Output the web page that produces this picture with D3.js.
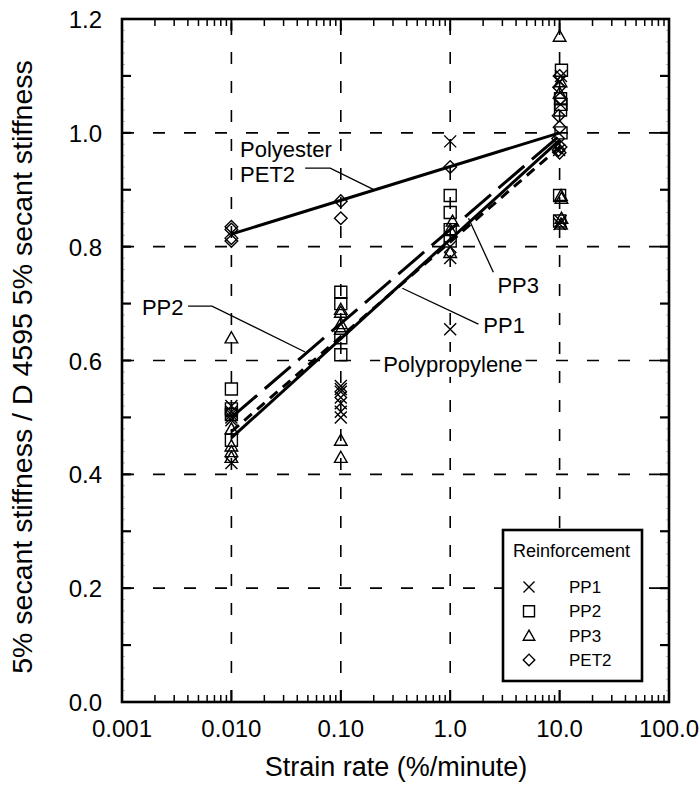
<!DOCTYPE html>
<html>
<head>
<meta charset="utf-8">
<script src="https://cdn.jsdelivr.net/npm/d3@7"></script>
<style>
  body { margin: 0; background: #fff; }
  svg { display: block; font-family: "Liberation Sans", Arial, Helvetica, sans-serif; }
</style>
</head>
<body>
<svg id="chart"></svg>
<script>
// tick values / labels
const xTicks = [0.001, 0.01, 0.1, 1, 10, 100];
const xTickLabels = ['0.001', '0.010', '0.10', '1.0', '10.0', '100.0'];
const yTicks = [0, 0.2, 0.4, 0.6, 0.8, 1.0, 1.2];
const yTickLabels = ['0.0', '0.2', '0.4', '0.6', '0.8', '1.0', '1.2'];
const xGrid = [0.01, 0.1, 1, 10];
const yGrid = [0.2, 0.4, 0.6, 0.8, 1.0];

// measured points [strain rate, stiffness ratio]
const pp1 = [[0.01, 0.42], [0.01, 0.495], [0.01, 0.50], [0.01, 0.505], [0.01, 0.51], [0.01, 0.52],
  [0.1, 0.50], [0.1, 0.51], [0.1, 0.525], [0.1, 0.535], [0.1, 0.545], [0.1, 0.55], [0.1, 0.555],
  [1, 0.655], [1, 0.78], [1, 0.80], [1, 0.985],
  [10, 0.84], [10.2, 0.845], [9.9, 0.97], [10.2, 1.05], [10, 1.09], [10.3, 1.10]];
const pp2 = [[0.01, 0.46], [0.01, 0.505], [0.01, 0.515], [0.01, 0.55],
  [0.1, 0.61], [0.1, 0.64], [0.1, 0.70], [0.1, 0.72],
  [1, 0.81], [1, 0.83], [1, 0.86], [1, 0.89],
  [10, 0.845], [10, 0.89], [10.3, 1.00], [10.2, 1.04], [10.3, 1.05], [10.2, 1.06], [10.4, 1.11]];
const pp3 = [[0.01, 0.43], [0.01, 0.44], [0.01, 0.45], [0.01, 0.48], [0.01, 0.64],
  [0.1, 0.43], [0.1, 0.46], [0.1, 0.655], [0.1, 0.665], [0.1, 0.685], [0.1, 0.69],
  [1, 0.79], [1, 0.83], [1.05, 0.845],
  [10.3, 0.84], [10.4, 0.85], [10.4, 0.885], [10.3, 0.89], [10, 1.07], [10.2, 1.09], [10, 1.17]];
const pet2 = [[0.01, 0.81], [0.01, 0.815], [0.01, 0.83], [0.01, 0.835],
  [0.1, 0.85], [0.1, 0.88], [1, 0.94],
  [10, 0.965], [9.8, 0.97], [10.2, 0.975], [9.7, 0.99], [10, 1.01], [9.8, 1.03], [10.1, 1.06], [9.9, 1.08], [10, 1.10]];

// regression lines (end points)
const fitPP1 = [[0.01, 0.464], [10, 0.987]];
const fitPP2 = [[0.01, 0.50], [10, 0.995]];
const fitPP3 = [[0.01, 0.475], [10, 0.975]];
const fitPET2 = [[0.01, 0.822], [10, 1.0]];

const legendNames = ['PP1', 'PP2', 'PP3', 'PET2'];

const W = 700, H = 786;
const margin = { top: 19, right: 31, bottom: 84, left: 122 };
const iw = W - margin.left - margin.right;
const ih = H - margin.top - margin.bottom;

const svg = d3.select('#chart').attr('width', W).attr('height', H);
svg.append('rect').attr('width', W).attr('height', H).attr('fill', '#fff');

const x = d3.scaleLog().domain([0.001, 100]).range([0, iw]);
const y = d3.scaleLinear().domain([0, 1.2]).range([ih, 0]);

const g = svg.append('g').attr('transform', 'translate(' + margin.left + ',' + margin.top + ')');

// grid
g.append('g').selectAll('line').data(xGrid).join('line')
  .attr('x1', d => x(d)).attr('x2', d => x(d))
  .attr('y1', ih).attr('y2', 0)
  .attr('stroke', '#000').attr('stroke-width', 1.6)
  .attr('stroke-dasharray', '12,17');
g.append('g').selectAll('line').data(yGrid).join('line')
  .attr('x1', 0).attr('x2', iw)
  .attr('y1', d => y(d)).attr('y2', d => y(d))
  .attr('stroke', '#000').attr('stroke-width', 1.6)
  .attr('stroke-dasharray', '12,19');

// ticks on all four sides
const decades = [0.001, 0.01, 0.1, 1, 10];
const minorX = [];
decades.forEach(dd => { for (let k = 2; k <= 9; k++) minorX.push(dd * k); });
const majorX = [0.01, 0.1, 1, 10];
const tickG = g.append('g').attr('stroke', '#000');
[ih, 0].forEach(function(base) {
  const dir = base === 0 ? 1 : -1;
  tickG.selectAll(null).data(minorX).enter().append('line')
    .attr('x1', d => x(d)).attr('x2', d => x(d))
    .attr('y1', base).attr('y2', base + dir * 7)
    .attr('stroke-width', 1.5);
  tickG.selectAll(null).data(majorX).enter().append('line')
    .attr('x1', d => x(d)).attr('x2', d => x(d))
    .attr('y1', base).attr('y2', base + dir * 12)
    .attr('stroke-width', 2);
});
const majorY = d3.range(1, 12).map(i => i / 10);
const minorY = d3.range(1, 60).map(i => i / 50);
[0, iw].forEach(function(base) {
  const dir = base === 0 ? 1 : -1;
  tickG.selectAll(null).data(minorY).enter().append('line')
    .attr('x1', base).attr('x2', base + dir * 3)
    .attr('y1', d => y(d)).attr('y2', d => y(d))
    .attr('stroke-width', 0.6).attr('stroke', '#888');
  tickG.selectAll(null).data(majorY).enter().append('line')
    .attr('x1', base).attr('x2', base + dir * 9)
    .attr('y1', d => y(d)).attr('y2', d => y(d))
    .attr('stroke-width', 2.2);
});

// frame
g.append('rect').attr('width', iw).attr('height', ih)
  .attr('fill', 'none').attr('stroke', '#000').attr('stroke-width', 2.6);

// tick labels
g.append('g').selectAll('text').data(xTicks).join('text')
  .attr('x', d => x(d)).attr('y', ih + 35)
  .attr('text-anchor', 'middle').attr('font-size', 24)
  .text((d, i) => xTickLabels[i]);
g.append('g').selectAll('text').data(yTicks).join('text')
  .attr('x', -20).attr('y', d => y(d) + 9)
  .attr('text-anchor', 'end').attr('font-size', 24)
  .text((d, i) => yTickLabels[i]);

// axis titles
svg.append('text').attr('x', 396).attr('y', 776)
  .attr('text-anchor', 'middle').attr('font-size', 27)
  .text('Strain rate (%/minute)');
svg.append('text').attr('transform', 'translate(32,367) rotate(-90)')
  .attr('text-anchor', 'middle').attr('font-size', 28.5)
  .text('5% secant stiffness / D 4595 5% secant stiffness');

// regression lines
const line = d3.line().x(d => x(d[0])).y(d => y(d[1]));
const fits = [
  { data: fitPET2, dash: null },
  { data: fitPP2, dash: '34,10' },
  { data: fitPP3, dash: '10,7' },
  { data: fitPP1, dash: null }
];
g.append('g').selectAll('path').data(fits).join('path')
  .attr('d', d => line(d.data))
  .attr('fill', 'none').attr('stroke', '#000').attr('stroke-width', 3)
  .attr('stroke-dasharray', d => d.dash);

// marker shapes
const markers = {
  PP1: s => 'M' + (-s) + ',' + (-s) + 'L' + s + ',' + s + 'M' + (-s) + ',' + s + 'L' + s + ',' + (-s),
  PP2: s => 'M' + (-s) + ',' + (-s) + 'H' + s + 'V' + s + 'H' + (-s) + 'Z',
  PP3: s => 'M0,' + (-s) + 'L' + (s * 1.05) + ',' + (s * 0.85) + 'H' + (-s * 1.05) + 'Z',
  PET2: s => 'M0,' + (-s * 1.05) + 'L' + (s * 1.05) + ',0L0,' + (s * 1.05) + 'L' + (-s * 1.05) + ',0Z'
};
const series = [
  { name: 'PP1', data: pp1 },
  { name: 'PP2', data: pp2 },
  { name: 'PP3', data: pp3 },
  { name: 'PET2', data: pet2 }
];
series.forEach(function(s) {
  g.append('g').selectAll('path').data(s.data).join('path')
    .attr('transform', d => 'translate(' + x(d[0]) + ',' + y(d[1]) + ')')
    .attr('d', markers[s.name](6))
    .attr('fill', 'none').attr('stroke', '#000').attr('stroke-width', 1.4);
});

// annotations (data coordinates)
const notes = [
  { text: 'Polyester', at: [0.012, 0.957] },
  { text: 'PET2', at: [0.012, 0.913] },
  { text: 'PP2', at: [0.00152, 0.68] },
  { text: 'PP1', at: [2.01, 0.648] },
  { text: 'PP3', at: [2.7, 0.718] },
  { text: 'Polypropylene', at: [0.244, 0.58], mask: true }
];
const noteG = g.append('g');
const noteText = noteG.selectAll('text').data(notes).join('text')
  .attr('x', d => x(d.at[0])).attr('y', d => y(d.at[1]))
  .attr('font-size', 22).text(d => d.text);
// white patch behind the Polypropylene label so the grid stops at it
noteText.filter(d => d.mask).each(function() {
  const b = this.getBBox();
  noteG.insert('rect', 'text')
    .attr('x', b.x - 3).attr('y', b.y).attr('width', b.width + 6).attr('height', b.height)
    .attr('fill', '#fff');
});
const leaders = [
  [[0.0472, 0.938], [0.08, 0.938], [0.2065, 0.899]],
  [[0.00402, 0.6956], [0.00665, 0.6956], [0.0472, 0.615]],
  [[0.365, 0.727], [1.81, 0.664]],
  [[2.48, 0.755], [1.47, 0.85]]
];
g.append('g').selectAll('path').data(leaders).join('path')
  .attr('d', d => line(d))
  .attr('fill', 'none').attr('stroke', '#000').attr('stroke-width', 1.3);

// legend
const lg = svg.append('g').attr('transform', 'translate(503,530)');
lg.append('rect').attr('width', 139).attr('height', 151)
  .attr('fill', '#fff').attr('stroke', '#000').attr('stroke-width', 2.6);
lg.append('text').attr('x', 10).attr('y', 27).attr('font-size', 18).text('Reinforcement');
const rows = lg.selectAll('g.row').data(legendNames).join('g')
  .attr('class', 'row')
  .attr('transform', (d, i) => 'translate(0,' + (57 + i * 24.3) + ')');
rows.append('path').attr('transform', 'translate(26,0)')
  .attr('d', d => markers[d](5.5))
  .attr('fill', 'none').attr('stroke', '#000').attr('stroke-width', 1.4);
rows.append('text').attr('x', 66).attr('y', 6).attr('font-size', 17).text(d => d);
</script>
</body>
</html>
